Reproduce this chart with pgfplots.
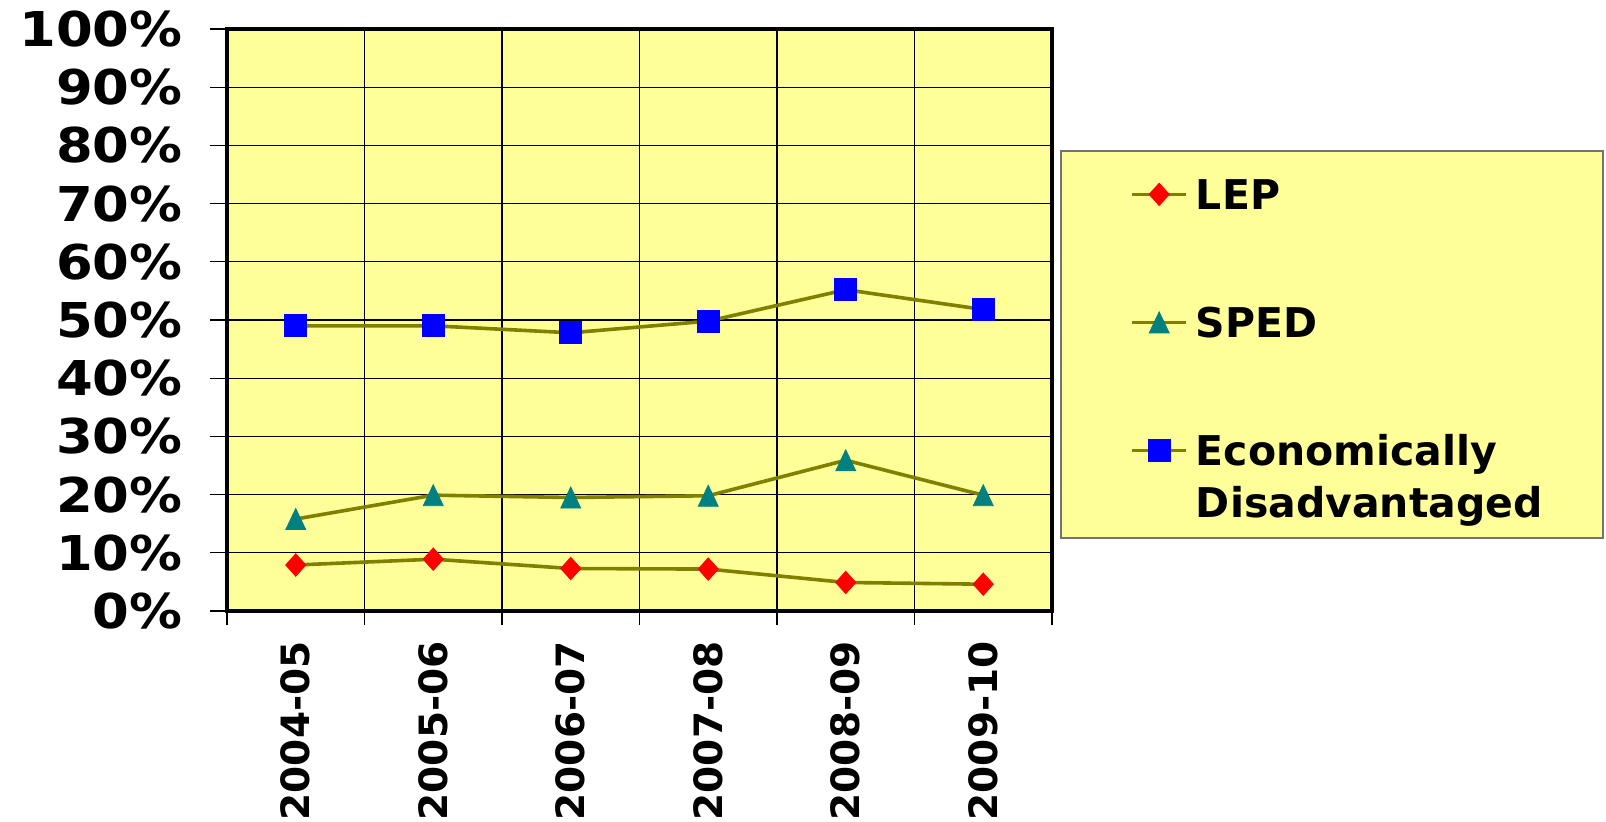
\documentclass[border=0pt]{standalone}
\usepackage{pgfplots}
\pgfplotsset{compat=1.18}
\usepackage{fontspec}
\setmainfont{DejaVu Sans}
\newfontfamily\widefont[FakeStretch=1.1]{DejaVu Sans}
\definecolor{plotyellow}{HTML}{FFFF99}
\definecolor{lineolive}{HTML}{808000}
\definecolor{sped}{HTML}{008080}
\definecolor{lep}{HTML}{FF0000}
\definecolor{econ}{HTML}{0000FF}
\newcommand\lstrut{\rule[-6.5pt]{0pt}{27.8pt}}
\begin{document}
\begin{tikzpicture}
\useasboundingbox (-113.5pt,-105.5pt) rectangle (689.5pt,305.5pt);
\begin{axis}[
  at={(0pt,0pt)}, anchor=south west,
  scale only axis, width=412.5pt, height=291pt,
  clip=false,
  xmin=-0.5, xmax=5.5, ymin=0, ymax=100,
  xtick={0,...,5},
  xticklabels={2004-05,2005-06,2006-07,2007-08,2008-09,2009-10},
  minor xtick={-0.5,0.5,...,5.5},
  ytick={0,10,...,100},
  yticklabels={0\%,10\%,20\%,30\%,40\%,50\%,60\%,70\%,80\%,90\%,100\%},
  tick align=outside, tick pos=left,
  major tick length=8.5pt, minor tick length=7pt,
  major x tick style={draw=none},
  tick style={black, line width=0.6pt},
  ymajorgrids, xminorgrids,
  grid style={black, line width=0.6pt},
  minor grid style={black, line width=0.6pt},
  axis line style={line width=1.6pt},
  axis background/.style={fill=plotyellow},
  xticklabel style={yshift=-6.5pt, rotate=90, anchor=east, inner sep=0pt, font=\bfseries\fontsize{19.5}{20}\selectfont},
  yticklabel style={xshift=-13.5pt, anchor=east, inner sep=0pt, font=\widefont\bfseries\fontsize{24}{26}\selectfont},
  legend style={at={(1.0109,0.7904)}, anchor=north west, draw=none, fill=none,
     inner xsep=34.5pt, inner ysep=5.7pt, row sep=37.2pt, column sep=2pt,
     font=\bfseries\fontsize{20.5}{26}\selectfont,
     cells={anchor=base west, inner sep=0pt}},
  legend image code/.code={
     \draw[mark repeat=2, mark phase=2, #1] plot coordinates {(0pt,7.5pt) (13.5pt,7.5pt) (27pt,7.5pt)};
  },
]
\draw[draw=black!55, line width=0.8pt, fill=plotyellow]
  (axis description cs:1.0109,0.7904) rectangle (axis description cs:1.668,0.1254);
\addplot[lineolive, line width=1.8pt, mark=diamond*, mark size=5.6pt,
  mark options={fill=lep, draw=lep, line width=0.4pt, xscale=1.2}]
  coordinates {(0,7.9) (1,8.9) (2,7.3) (3,7.2) (4,4.9) (5,4.6)};
\addlegendentry{\lstrut LEP}
\addplot[lineolive, line width=1.8pt, mark=triangle*, mark size=7pt,
  mark options={fill=sped, draw=sped, line width=0.4pt, xscale=0.82, yshift=-1.75pt}]
  coordinates {(0,15.8) (1,19.9) (2,19.5) (3,19.8) (4,25.9) (5,19.9)};
\addlegendentry{\lstrut SPED}
\addplot[lineolive, line width=1.8pt, mark=square*, mark size=5.5pt,
  mark options={fill=econ, draw=econ, line width=0.4pt}]
  coordinates {(0,49.0) (1,49.0) (2,47.8) (3,49.8) (4,55.2) (5,51.8)};
\addlegendentry{\begin{tabular}[t]{@{}l@{}}\lstrut Economically\\Disadvantaged\end{tabular}}
\end{axis}
\end{tikzpicture}
\end{document}
